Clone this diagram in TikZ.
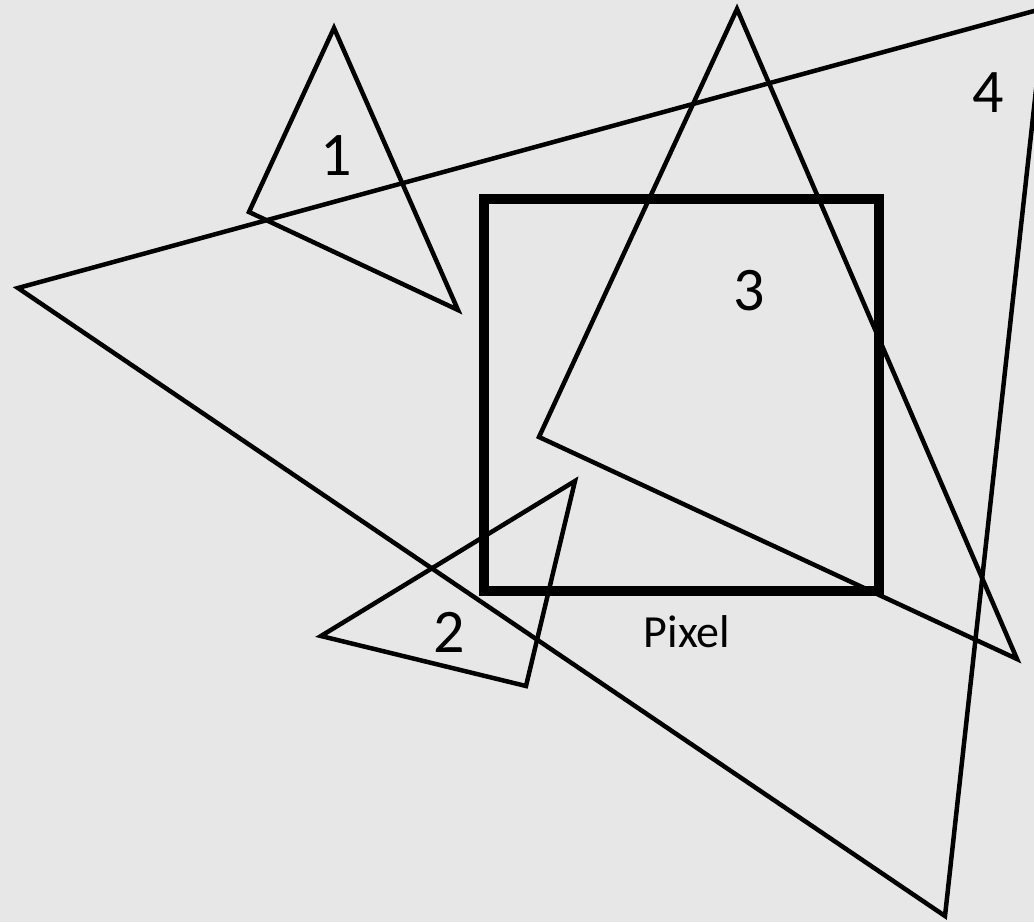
\documentclass[tikz,border=0pt]{standalone}
\usepackage{fontspec}
\setmainfont{Carlito}
\definecolor{bg}{HTML}{E7E7E7}
\begin{document}
\begin{tikzpicture}[x=1pt,y=-1pt,
  tri/.style={draw=black,line width=4.5pt,line join=miter},
  pixbox/.style={draw=black,line width=10pt,line join=miter},
  num/.style={font=\fontsize{62}{62}\selectfont,anchor=base,inner sep=0pt},
  lbl/.style={font=\fontsize{46}{46}\selectfont,anchor=base,inner sep=0pt}]
\fill[bg] (0,0) rectangle (1034,922);
\useasboundingbox (0,0) rectangle (1034,922);
\begin{scope}
\clip (0,0) rectangle (1034,922);
% triangle 4
\coordinate (t4a) at (18,288);
\coordinate (t4b) at (1045,8);
\coordinate (t4c) at (945,916);
\draw[tri] (t4a) -- (t4b) -- (t4c) -- cycle;
% triangle 1
\coordinate (t1a) at (334,28);
\coordinate (t1b) at (249,212);
\coordinate (t1c) at (458,310);
\draw[tri] (t1a) -- (t1b) -- (t1c) -- cycle;
% pixel square
\coordinate (p1) at (483.5,199);
\coordinate (p2) at (879,591);
\draw[pixbox] (p1) rectangle (p2);
% triangle 3
\coordinate (t3a) at (737,9);
\coordinate (t3b) at (539,437);
\coordinate (t3c) at (1017,659);
\draw[tri] (t3a) -- (t3b) -- (t3c) -- cycle;
% triangle 2
\coordinate (t2a) at (575,481);
\coordinate (t2b) at (321,636);
\coordinate (t2c) at (526,686);
\draw[tri] (t2a) -- (t2b) -- (t2c) -- cycle;
\end{scope}
\node[num] (n1) at (336,175) {1};
\node[num] (n2) at (449,652) {2};
\node[num] (n3) at (749,310) {3};
\node[num] (n4) at (988,112) {4};
\node[lbl] (px) at (687,647) {Pixel};
\end{tikzpicture}
\end{document}
